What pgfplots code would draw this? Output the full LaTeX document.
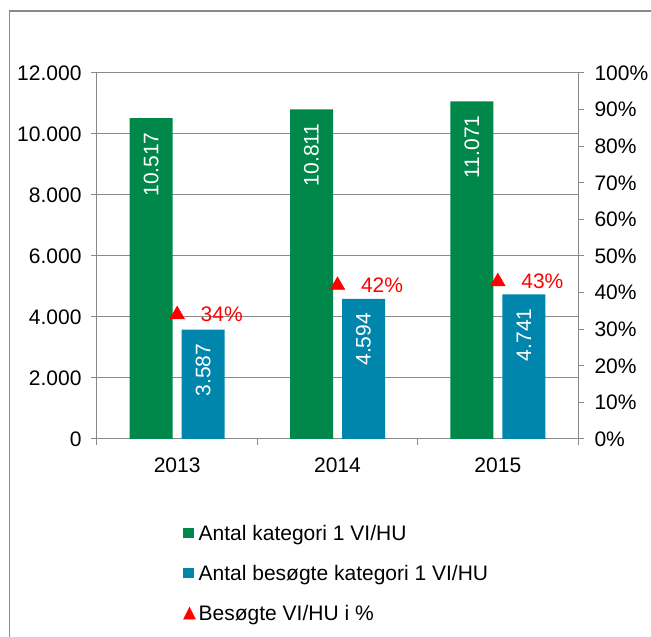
\documentclass[border=0pt]{standalone}
\usepackage{fontspec}
\setmainfont{Liberation Sans}
\usepackage{pgfplots}
\pgfplotsset{compat=1.18}
\definecolor{cgreen}{HTML}{00884A}
\definecolor{cblue}{HTML}{0086AC}
\definecolor{cgray}{HTML}{898989}
\newcommand\f{\fontsize{21}{25}\selectfont}
\begin{document}
\begin{tikzpicture}[x=1pt,y=1pt]
\useasboundingbox (0,0) rectangle (651,637);
\begin{scope}
\clip (0,0) rectangle (651,637);
\draw[cgray, line width=1.4pt] (9.5,-20) rectangle (680,626);
\end{scope}
\begin{axis}[
  at={(97pt,198pt)}, anchor=south west,
  width=481pt, height=366pt, scale only axis,
  ybar, bar width=43pt,
  xmin=-0.5, xmax=2.5, ymin=0, ymax=12000,
  axis line style={cgray, line width=1pt},
  /pgf/number format/assume math mode=true,
  ytick={0,2000,...,12000}, ymajorgrids,
  major grid style={cgray, line width=1pt},
  scaled y ticks=false,
  yticklabel style={/pgf/number format/fixed, /pgf/number format/1000 sep={.}, xshift=-6pt},
  tick label style={font=\f, text=black},
  ytick pos=left, tick align=outside, major tick length=6pt,
  tick style={cgray, line width=1pt},
  xtick={-0.5,0.5,1.5,2.5}, xticklabels={}, xtick pos=bottom,
  extra x ticks={0,1,2}, extra x tick labels={2013,2014,2015},
  extra x tick style={major tick length=0pt, grid=none, tick style={draw=none},
    x tick label style={yshift=-15pt}},
  legend style={at={(0.179,-0.235)}, anchor=north west, draw=none, fill=none,
    inner sep=0pt, font=\f, row sep=20pt, column sep=3pt,
    nodes={inner sep=0pt, text height=15pt, text depth=5pt}},
  legend cell align=left,
  nodes near coords={\pgfmathprintnumber[fixed,1000 sep={.}]{\pgfplotspointmeta}},
  nodes near coords style={rotate=90, anchor=east, text=white, font=\f, inner xsep=14pt},
]
\addplot[fill=cgreen, draw=none, bar shift=-26pt,
  legend image code/.code={\fill[cgreen] (0pt,-3pt) rectangle (10pt,7pt);}]
  coordinates {(0,10517) (1,10811) (2,11071)};
\addlegendentry{Antal kategori 1 VI/HU}
\addplot[fill=cblue, draw=none, bar shift=26pt,
  legend image code/.code={\fill[cblue] (0pt,-3pt) rectangle (10pt,7pt);}]
  coordinates {(0,3587) (1,4594) (2,4741)};
\addlegendentry{Antal besøgte kategori 1 VI/HU}
\addlegendimage{legend image code/.code={\fill[red] (0pt,-4pt) -- (12pt,-4pt) -- (6pt,8pt) -- cycle;}}
\addlegendentry{Besøgte VI/HU i \%}
\end{axis}
\begin{axis}[
  at={(97pt,198pt)}, anchor=south west,
  width=481pt, height=366pt, scale only axis,
  xmin=-0.5, xmax=2.5, ymin=0, ymax=100,
  axis x line=none, axis y line*=right,
  axis line style={cgray, line width=1pt},
  /pgf/number format/assume math mode=true,
  ytick={0,10,...,100},
  yticklabel={\pgfmathprintnumber{\tick}\%},
  tick label style={font=\f, text=black},
  yticklabel style={xshift=7pt},
  tick align=outside, major tick length=6pt,
  tick style={cgray, line width=1pt},
]
\addplot[only marks, mark=triangle*, mark size=8.5pt, color=red,
  nodes near coords={\pgfmathprintnumber{\pgfplotspointmeta}\%},
  nodes near coords style={anchor=west, xshift=20pt, text=red, font=\f}]
  coordinates {(0,34) (1,42) (2,43)};
\end{axis}
\end{tikzpicture}
\end{document}
